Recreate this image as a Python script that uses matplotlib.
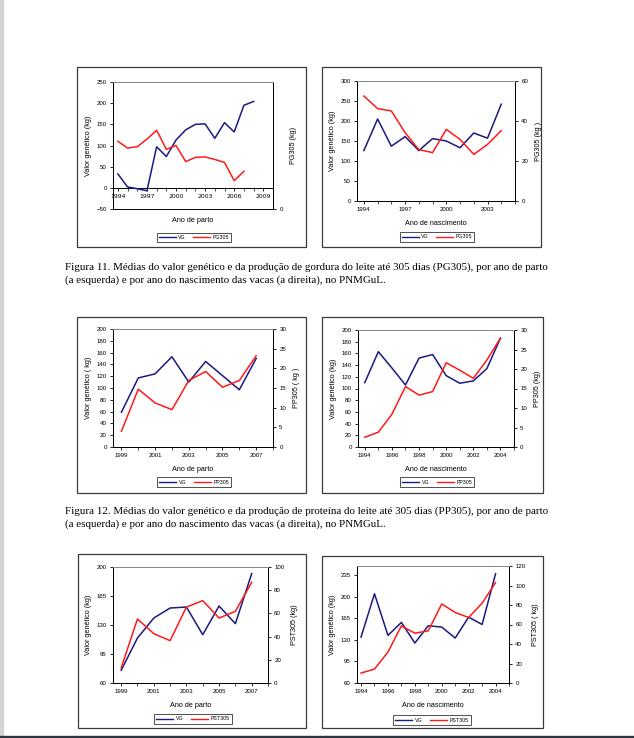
import matplotlib
matplotlib.use('Agg')
import matplotlib.pyplot as plt
from matplotlib.patches import Rectangle
from matplotlib.lines import Line2D

W, H = 634, 738
fig = plt.figure(figsize=(W / 100, H / 100), dpi=100)
fig.patch.set_facecolor('white')

# ---------------- data ----------------
# Figura 11 (left): por ano de parto
years_11a = [1994, 1995, 1996, 1997, 1998, 1999, 2000, 2001, 2002, 2003, 2004, 2005, 2006, 2007, 2008]
vg_11a = [33, 2, -2, -7, 97, 74, 113, 137, 150, 151, 117, 154, 132, 195, 204]
years_pg_11a = [1994, 1995, 1996, 1997, 1998, 1999, 2000, 2001, 2002, 2003, 2004, 2005, 2006, 2007]
pg_11a = [32.0, 28.8, 29.4, 33.0, 37.2, 28.2, 30.0, 22.4, 24.4, 24.6, 23.4, 22.0, 13.4, 17.8]

# Figura 11 (right): por ano de nascimento
years_11b = [1994, 1995, 1996, 1997, 1998, 1999, 2000, 2001, 2002, 2003, 2004]
vg_11b = [126, 205, 137, 161, 126, 156, 150, 133, 170, 157, 242]
pg_11b = [52.5, 46.2, 45.0, 34.2, 25.7, 24.2, 35.8, 30.8, 23.3, 28.3, 35.2]

# Figura 12 (left)
years_12a = [1999, 2000, 2001, 2002, 2003, 2004, 2005, 2006, 2007]
vg_12a = [59, 117, 124, 153, 110, 145, 121, 97, 150]
pp_12a = [4.0, 14.7, 11.2, 9.5, 16.9, 19.2, 15.2, 16.9, 23.2]

# Figura 12 (right)
years_12b = [1994, 1995, 1996, 1997, 1998, 1999, 2000, 2001, 2002, 2003, 2004]
vg_12b = [110, 163, 135, 106, 152, 158, 122, 109, 113, 134, 186]
pp_12b = [2.5, 3.8, 8.4, 15.5, 13.3, 14.2, 21.6, 19.7, 17.6, 22.3, 27.9]

# Figura 13 (left)
years_13a = [1999, 2000, 2001, 2002, 2003, 2004, 2005, 2006, 2007]
vg_13a = [75.3, 114.3, 138.4, 150.5, 151.7, 118.3, 152.9, 131.6, 192.0]
pst_13a = [12.9, 55.2, 42.5, 36.5, 65.5, 71.0, 56.0, 61.8, 86.8]

# Figura 13 (right)
years_13b = [1994, 1995, 1996, 1997, 1998, 1999, 2000, 2001, 2002, 2003, 2004]
vg_13b = [134.6, 204.9, 137.3, 158.4, 124.9, 153.0, 150.8, 133.0, 167.0, 155.0, 237.3]
pst_13b = [10.2, 14.3, 31.7, 58.6, 51.1, 53.5, 81.1, 72.3, 67.2, 81.8, 103.0]

caption_11 = ("Figura 11. Médias do valor genético e da produção de gordura do leite até 305 dias (PG305), por ano de parto\n"
              "(a esquerda) e por ano do nascimento das vacas (a direita), no PNMGuL.")
caption_12 = ("Figura 12. Médias do valor genético e da produção de proteína do leite até 305 dias (PP305), por ano de parto\n"
              "(a esquerda) e por ano do nascimento das vacas (a direita), no PNMGuL.")

VG_COLOR = '#1a1a80'
RED = '#ff1a1a'
SANS = 'Liberation Sans'
TICK_FS = 4.4
LAB_FS = 5.2


def axes_px(x0, y0, x1, y1):
    return fig.add_axes([x0 / W, 1 - y1 / H, (x1 - x0) / W, (y1 - y0) / H])


def box_px(x0, y0, x1, y1):
    fig.patches.append(Rectangle((x0 / W, 1 - y1 / H), (x1 - x0) / W, (y1 - y0) / H,
                                 transform=fig.transFigure, fill=False,
                                 edgecolor='#3a3a3a', lw=0.9, zorder=0))


def chart(box, plot, xs1, y1, xs2, y2, xlim, ylim, yticks, y2lim, y2ticks, xticks,
          xlabel, ylabel, y2label, name2, leg_xy, zero_axis=False):
    box_px(*box)
    ax = axes_px(*plot)
    ax2 = ax.twinx()
    ax.plot(xs1, y1, color=VG_COLOR, lw=1.1, zorder=3)
    ax2.plot(xs2, y2, color=RED, lw=1.1, zorder=3)
    ax.set_xlim(*xlim)
    ax.set_ylim(*ylim)
    ax2.set_ylim(*y2lim)
    ax.set_yticks(yticks)
    ax2.set_yticks(y2ticks)
    ax.set_xticks(xticks)
    ax.set_xticks([y for y in range(int(xlim[0] + 0.5), int(xlim[1] + 0.5) + 1)], minor=True)
    for a in (ax, ax2):
        for s in a.spines.values():
            s.set_linewidth(0.7)
        a.spines['top'].set_color('#8a8a8a')
    ax.tick_params(axis='both', which='major', labelsize=TICK_FS, length=2.5, width=0.6, pad=2,
                   direction='out')
    ax.tick_params(axis='x', which='minor', length=2.0, width=0.5, direction='out')
    ax2.tick_params(axis='y', labelsize=TICK_FS, length=2.5, width=0.6, pad=2, direction='out')
    for lab in ax.get_xticklabels() + ax.get_yticklabels() + ax2.get_yticklabels():
        lab.set_family(SANS)
    ax.set_xlabel(xlabel, fontsize=LAB_FS, family=SANS, labelpad=5.5)
    if zero_axis:
        ax.spines['bottom'].set_position(('data', 0))
        ax.spines['bottom'].set_color('black')
        ax2.spines['bottom'].set_visible(True)
        ax.xaxis.set_label_coords(0.5, -0.06)
    ax.set_ylabel(ylabel, fontsize=LAB_FS, family=SANS, labelpad=3)
    ax2.set_ylabel(y2label, fontsize=LAB_FS, family=SANS, labelpad=5)
    handles = [Line2D([], [], color=VG_COLOR, lw=1.0), Line2D([], [], color=RED, lw=1.0)]
    leg = fig.legend(handles, ['VG', name2], loc='center', ncol=2,
                     bbox_to_anchor=(leg_xy[0] / W, 1 - leg_xy[1] / H),
                     bbox_transform=fig.transFigure, frameon=True,
                     fancybox=False, edgecolor='black', handlelength=3.2,
                     handletextpad=0.5, columnspacing=1.4, borderpad=0.4,
                     prop={'family': SANS, 'size': 3.8})
    leg.get_frame().set_linewidth(0.6)
    return ax, ax2


chart((77, 67, 306, 247), (113, 82, 273, 209), years_11a, vg_11a, years_pg_11a, pg_11a,
      (1993.5, 2009.5), (-50, 250), list(range(-50, 251, 50)), (0, 60), [0],
      [1994, 1997, 2000, 2003, 2006, 2009],
      'Ano de parto', 'Valor genético (kg)', 'PG305 (kg)', 'PG305', (194, 237.5), zero_axis=True)

chart((322, 67, 541, 247), (357, 81, 515, 201), years_11b, vg_11b, years_11b, pg_11b,
      (1993.5, 2004.5), (0, 300), list(range(0, 301, 50)), (0, 60), [0, 20, 40, 60],
      [1994, 1997, 2000, 2003],
      'Ano de nascimento', 'Valor genético (kg)', 'PG305 (kg )', 'PG305', (437, 237))

chart((77, 317, 306, 493), (113, 329, 273, 447), years_12a, vg_12a, years_12a, pp_12a,
      (1998.5, 2007.5), (0, 200), list(range(0, 201, 20)), (0, 30), list(range(0, 31, 5)),
      [1999, 2001, 2003, 2005, 2007],
      'Ano de parto', 'Valor genético ( kg)', 'PP305 ( kg )', 'PP305', (194, 482))

chart((322, 317, 543, 493), (358, 330, 514, 447), years_12b, vg_12b, years_12b, pp_12b,
      (1993.5, 2004.5), (0, 200), list(range(0, 201, 20)), (0, 30), list(range(0, 31, 5)),
      [1994, 1996, 1998, 2000, 2002, 2004],
      'Ano de nascimento', 'Valor genético (kg)', 'PP305 (kg)', 'PP305', (437, 482))

chart((78, 554, 306, 728), (113, 567, 268, 683), years_13a, vg_13a, years_13a, pst_13a,
      (1998.5, 2007.5), (60, 200), [60, 95, 130, 165, 200], (0, 100), list(range(0, 101, 20)),
      [1999, 2001, 2003, 2005, 2007],
      'Ano de parto', 'Valor genético (kg)', 'PST305 (kg)', 'PST305', (193, 719))

chart((322, 556, 543, 728), (357, 566, 509, 683), years_13b, vg_13b, years_13b, pst_13b,
      (1993.7, 2004.5), (60, 250), [60, 95, 130, 165, 200, 235], (0, 120), list(range(0, 121, 20)),
      [1994, 1996, 1998, 2000, 2002, 2004],
      'Ano de nascimento', 'Valor genético (kg)', 'PST305 ( kg)', 'PST305', (432, 720))

# captions
fig.text(65 / W, 1 - 262 / H, caption_11, family='Liberation Serif', fontsize=7.95,
         va='top', ha='left', linespacing=1.45)
fig.text(65 / W, 1 - 506 / H, caption_12, family='Liberation Serif', fontsize=7.95,
         va='top', ha='left', linespacing=1.45)

# page edges
fig.patches.append(Rectangle((0, 0), 2.5 / W, 1, transform=fig.transFigure,
                             color='#d4d4d4', zorder=0))
fig.patches.append(Rectangle((0, 0), 1, 2.5 / H, transform=fig.transFigure,
                             color='#2e3640', zorder=0))

fig.savefig('out.png', dpi=100)
